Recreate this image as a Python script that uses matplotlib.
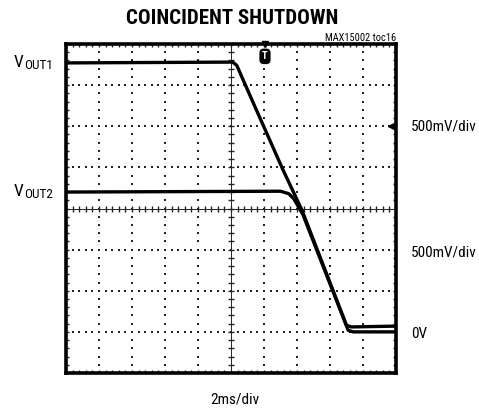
import matplotlib
matplotlib.use("Agg")
import matplotlib.pyplot as plt
from matplotlib import font_manager as fm
import numpy as np

# ---- data (time in ms, voltage in V) ----
t_vout1 = [0.0, 10.1, 10.35, 11.27, 13.15, 14.3, 17.0, 17.3, 20.0]
v_vout1 = [3.27, 3.28, 3.24, 2.82, 1.97, 1.48, 0.08, 0.06, 0.07]
t_vout2 = [0.0, 13.0, 13.5, 13.8, 14.35, 17.1, 17.4, 20.0]
v_vout2 = [1.70, 1.71, 1.68, 1.62, 1.43, 0.02, 0.0, 0.0]

title = "COINCIDENT SHUTDOWN"
note = "MAX15002 toc16"
ch_subs = ["OUT1", "OUT2"]
ch_label_v = [3.22, 1.65]
scale_labels = ["500mV/div", "500mV/div", "0V"]
scale_label_v = [2.5, 0.97, -0.02]
xlabel = "2ms/div"
ms_per_div = 2.0
v_per_div = 0.5
n_xdiv, n_ydiv = 10, 8
v_bottom = -0.5
trigger_t = 12.06
ch_marker_v = 2.5

names = {f.name for f in fm.fontManager.ttflist}
prefs = ["Roboto Condensed", "Archivo Narrow", "PT Sans Narrow", "Barlow Semi Condensed",
         "Barlow Condensed", "DejaVu Sans"]
narrow = next(n for n in prefs if n in names)
plt.rcParams['font.family'] = [narrow, 'DejaVu Sans']

fig = plt.figure(figsize=(4.79, 4.12), dpi=100)
ax = fig.add_axes([66/479, 39/412, 330/479, 329/412])
x0, x1 = 0, n_xdiv * ms_per_div
y0, y1 = v_bottom, v_bottom + n_ydiv * v_per_div
ax.set_xlim(x0, x1)
ax.set_ylim(y0, y1)
ax.set_xticks([]); ax.set_yticks([])
for s in ax.spines.values():
    s.set_linewidth(2.6)
    s.set_color('black')

xmaj = np.linspace(x0, x1, n_xdiv + 1)
ymaj = np.linspace(y0, y1, n_ydiv + 1)
xmin = np.linspace(x0, x1, n_xdiv * 5 + 1)
ymin = np.linspace(y0, y1, n_ydiv * 5 + 1)
xc = (x0 + x1) / 2
yc = (y0 + y1) / 2

# dotted grid
for xv in xmaj[1:-1]:
    if abs(xv - xc) > 1e-9:
        ax.plot(np.full_like(ymin, xv), ymin, ls='none', marker='s', ms=1.5, color='#222222', mew=0)
for yv in ymaj[1:-1]:
    if abs(yv - yc) > 1e-9:
        ax.plot(xmin, np.full_like(xmin, yv), ls='none', marker='s', ms=1.5, color='#222222', mew=0)

# center crosshair with ticks
ax.axvline(xc, color='#222222', lw=0.7)
ax.axhline(yc, color='#222222', lw=0.7)
ax.plot(np.full_like(ymin, xc), ymin, ls='none', marker='_', ms=5, mew=1.0, color='#222222')
ax.plot(xmin, np.full_like(xmin, yc), ls='none', marker='|', ms=5, mew=1.0, color='#222222')

# edge ticks
for yv in [y0, y1]:
    ax.plot(xmin, np.full_like(xmin, yv), ls='none', marker='|', ms=4, mew=1.0, color='#222222')
for xv in [x0, x1]:
    ax.plot(np.full_like(ymin, xv), ymin, ls='none', marker='_', ms=4, mew=1.0, color='#222222')

# traces
ax.plot(t_vout1, v_vout1, color='black', lw=2.4, solid_joinstyle='round')
ax.plot(t_vout2, v_vout2, color='black', lw=2.4, solid_joinstyle='round')

# trigger marker
ax.plot([trigger_t], [y1], marker='v', ms=5, color='black', clip_on=False)
ax.text(trigger_t, y1 - 0.15, "T", ha='center', va='center', color='white', fontsize=7.5,
        fontweight='bold', bbox=dict(boxstyle='round,pad=0.2,rounding_size=0.35', fc='black', ec='black'))
# channel marker
ax.plot([x1 - 0.3], [ch_marker_v], marker='<', ms=5, color='black', clip_on=False)

# channel labels: big V + smaller subscript
fig.canvas.draw()
renderer = fig.canvas.get_renderer()
for sub, v in zip(ch_subs, ch_label_v):
    y_fig = fig.transFigure.inverted().transform(ax.transData.transform((0, v)))[1]
    tv = fig.text(14/479, y_fig, "V", ha='left', va='baseline', fontsize=12.5)
    bb = tv.get_window_extent(renderer)
    fig.text((bb.x1 + 0.5) / fig.bbox.width, y_fig - 1.5/412, sub, ha='left', va='baseline', fontsize=9.5)

for lab, v in zip(scale_labels, scale_label_v):
    ax.text(x1 + 0.9, v, lab, ha='left', va='center', fontsize=11, clip_on=False)

fig.text(232/479, 1 - 18/412, title, ha='center', va='center', fontsize=15, fontweight='bold')
fig.text(396/479, 1 - 38/412, note, ha='right', va='center', fontsize=7.5)
fig.text(235/479, 1 - 400/412, xlabel, ha='center', va='center', fontsize=11)

fig.savefig("out.png", dpi=100)
